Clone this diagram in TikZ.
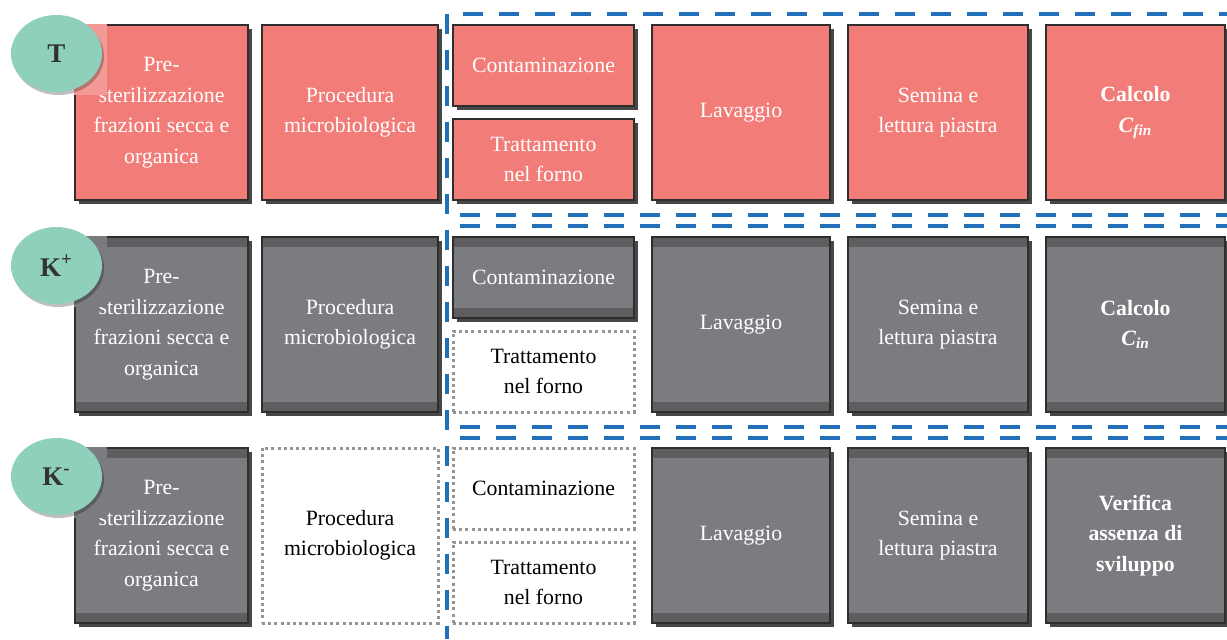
\documentclass[tikz,border=0pt]{standalone}
\usepackage{fontspec}
\setmainfont{Liberation Serif}
\usetikzlibrary{shadows,shapes.geometric}
\definecolor{redf}{HTML}{F27C78}
\definecolor{redveil}{HTML}{F49A96}
\definecolor{greyf}{HTML}{7B7C80}
\definecolor{bandc}{HTML}{5E5E60}
\definecolor{edgec}{HTML}{2E2E2E}
\definecolor{mint}{HTML}{8FD0BC}
\definecolor{blueL}{HTML}{2270BA}
\definecolor{dotc}{HTML}{959595}
\newcommand\boxfont{\fontsize{10.9}{15.25}\selectfont}
\newcommand\circfont{\bfseries\fontsize{13.5}{15}\selectfont}
\begin{document}
\begin{tikzpicture}[x=0.5pt,y=-0.5pt,
  box/.style={rectangle, inner sep=0pt, outer sep=0pt, align=center, font=\boxfont,
    draw=edgec, line width=0.8pt, text=white,
    drop shadow={shadow xshift=2pt, shadow yshift=-2pt, fill=black!72, opacity=1}},
  redbox/.style={box, fill=redf},
  greybox/.style={box, fill=greyf, path picture={
    \fill[bandc] (path picture bounding box.north west) rectangle ([yshift=-5pt]path picture bounding box.north east);
    \fill[bandc] (path picture bounding box.south west) rectangle ([yshift=5pt]path picture bounding box.south east);}},
  dotbox/.style={rectangle, inner sep=0pt, outer sep=0pt, align=center, font=\boxfont,
    draw=dotc, line width=1.5pt, dash pattern=on 1.5pt off 1.6pt, text=black},
  big/.style={minimum height=87.5pt},
  small/.style={minimum height=40.5pt},
  wa/.style={minimum width=86.5pt},
  wb/.style={minimum width=88pt},
  wc/.style={minimum width=90.5pt},
  wd/.style={minimum width=89pt},
  we/.style={minimum width=90pt},
  wf/.style={minimum width=89.5pt},
  circ/.style={ellipse, fill=mint, minimum width=45.5pt, minimum height=38.5pt, inner sep=0pt,
    font=\circfont, text=black!80,
    drop shadow={shadow xshift=1pt, shadow yshift=-1.5pt, fill=black, opacity=0.25}},
  bluedash/.style={draw=blueL, line width=2pt, dash pattern=on 10pt off 8pt}
]
\useasboundingbox (0,0) rectangle (1227,639);

% blue dashed frame
\draw[bluedash] (447,14) -- (447,639);
\draw[bluedash] (463,14) -- (1227,14);
\draw[bluedash] (460,215) -- (1227,215);
\draw[bluedash] (460,226) -- (1227,226);
\draw[bluedash] (460,427) -- (1227,427);
\draw[bluedash] (460,438) -- (1227,438);

% row T
\node[redbox, big, wa] (t1) at (161.5,112.5) {Pre-\\sterilizzazione\\frazioni secca e\\organica};
\node[redbox, big, wb] (t2) at (350,112.5) {Procedura\\microbiologica};
\node[redbox, small, wc] (t3) at (543.5,65.5) {Contaminazione};
\node[redbox, small, wc] (t4) at (543.5,159.5) {Trattamento\\nel forno};
\node[redbox, big, wd] (t5) at (741,112.5) {Lavaggio};
\node[redbox, big, we] (t6) at (938,112.5) {Semina e\\lettura piastra};
\node[redbox, big, wf] (t7) at (1135.5,112.5) {\textbf{Calcolo}\\\textbf{\textit{C}\textsubscript{\textit{fin}}}};

% row K+
\node[greybox, big, wa] (p1) at (161.5,324.5) {Pre-\\sterilizzazione\\frazioni secca e\\organica};
\node[greybox, big, wb] (p2) at (350,324.5) {Procedura\\microbiologica};
\node[greybox, small, wc] (p3) at (543.5,277.5) {Contaminazione};
\node[dotbox, small, wc] (p4) at (543.5,371.5) {Trattamento\\nel forno};
\node[greybox, big, wd] (p5) at (741,324.5) {Lavaggio};
\node[greybox, big, we] (p6) at (938,324.5) {Semina e\\lettura piastra};
\node[greybox, big, wf] (p7) at (1135.5,324.5) {\textbf{Calcolo}\\\textbf{\textit{C}\textsubscript{\textit{in}}}};

% row K-
\node[greybox, big, wa] (m1) at (161.5,535.5) {Pre-\\sterilizzazione\\frazioni secca e\\organica};
\node[dotbox, big, wb] (m2) at (350,535.5) {Procedura\\microbiologica};
\node[dotbox, small, wc] (m3) at (543.5,488.5) {Contaminazione};
\node[dotbox, small, wc] (m4) at (543.5,582.5) {Trattamento\\nel forno};
\node[greybox, big, wd] (m5) at (741,535.5) {Lavaggio};
\node[greybox, big, we] (m6) at (938,535.5) {Semina e\\lettura piastra};
\node[greybox, big, wf] (m7) at (1135.5,535.5) {\textbf{Verifica}\\\textbf{assenza di}\\\textbf{sviluppo}};

% label backgrounds covering box corners
\fill[redveil] ([shift={(-0.4pt,0.4pt)}]t1.north west) rectangle (107,95);
\fill[greyf] ([shift={(-0.4pt,0.4pt)}]p1.north west) rectangle (107,307);
\fill[greyf] ([shift={(-0.4pt,0.4pt)}]m1.north west) rectangle (107,518);
% labels
\node[circ] (ct) at (56.5,53.5) {T};
\node[circ] (cp) at (56.5,265.5) {K\textsuperscript{+}};
\node[circ] (cm) at (56.5,476.5) {K\textsuperscript{-}};
\end{tikzpicture}
\end{document}
